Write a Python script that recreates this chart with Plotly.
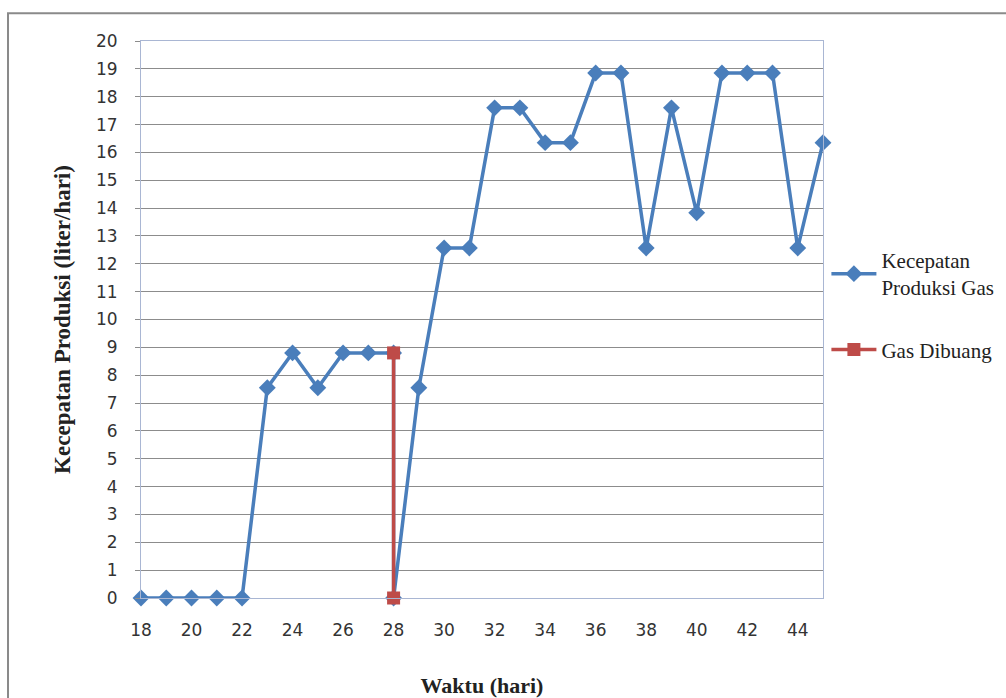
import plotly.graph_objects as go

# Gas production rate per day (liter/hari)
hari = [18, 19, 20, 21, 22, 23, 24, 25, 26, 27, 28, 28, 29, 30, 31, 32, 33,
        34, 35, 36, 37, 38, 39, 40, 41, 42, 43, 44, 45]
kecepatan = [0, 0, 0, 0, 0, 7.55, 8.8, 7.55, 8.8, 8.8, 8.8, 0, 7.55, 12.57,
             12.57, 17.6, 17.6, 16.35, 16.35, 18.85, 18.85, 12.57, 17.6,
             13.83, 18.85, 18.85, 18.85, 12.57, 16.35]

# Gas vented on day 28
hari_buang = [28, 28]
gas_buang = [8.8, 0]

x_ticks = list(range(18, 45, 2))
y_ticks = list(range(0, 21))

BLUE = "#4A7EBB"
RED = "#BE4B48"

fig = go.Figure()
fig.add_trace(go.Scatter(
    x=hari, y=kecepatan, mode="lines+markers",
    name="Kecepatan<br>Produksi Gas", legendgroup="produksi",
    line=dict(color=BLUE, width=3.5),
    marker=dict(symbol="diamond", size=13, color=BLUE),
    cliponaxis=False,
))
fig.add_trace(go.Scatter(
    x=hari_buang, y=gas_buang, mode="lines+markers",
    name="Gas Dibuang", legendgroup="buang",
    line=dict(color=RED, width=3.5),
    marker=dict(symbol="square", size=13, color=RED),
    cliponaxis=False,
))

fig.update_layout(
    width=1006, height=698,
    margin=dict(l=141, r=183, t=41, b=100, autoexpand=False),
    paper_bgcolor="white", plot_bgcolor="white",
    showlegend=True,
    legend=dict(
        x=1.005, xanchor="left", y=0.643, yanchor="top",
        font=dict(family="Liberation Serif", size=21, color="#222"),
        tracegroupgap=32, itemwidth=45, bgcolor="rgba(0,0,0,0)",
    ),
    xaxis=dict(
        range=[18, 45], tickvals=x_ticks, showgrid=False, zeroline=False,
        ticks="", showline=True, mirror=True, linecolor="#A9B6D3", linewidth=1,
        tickfont=dict(family="DejaVu Sans", size=17, color="#333"),
        ticklabelstandoff=17,
        title=dict(text="<b>Waktu (hari)</b>", standoff=38,
                   font=dict(family="Liberation Serif", size=22, color="#222")),
    ),
    yaxis=dict(
        range=[0, 20], tickvals=y_ticks, showgrid=True, gridcolor="#8C8C8C",
        gridwidth=1, zeroline=False, ticks="outside", ticklen=5,
        tickcolor="#8C8C8C", showline=True, mirror=True, linecolor="#A9B6D3",
        linewidth=1, ticklabelstandoff=14,
        tickfont=dict(family="DejaVu Sans", size=17, color="#333"),
        title=dict(text="<b>Kecepatan Produksi (liter/hari)</b>", standoff=18,
                   font=dict(family="Liberation Serif", size=23, color="#222")),
    ),
    shapes=[dict(
        type="rect", xref="paper", yref="paper",
        x0=-0.195, x1=1.6, y0=-0.4, y1=1.05,
        line=dict(color="#8A8A8A", width=2), fillcolor="rgba(0,0,0,0)",
        layer="below",
    )],
)

fig.write_html("out.html")
